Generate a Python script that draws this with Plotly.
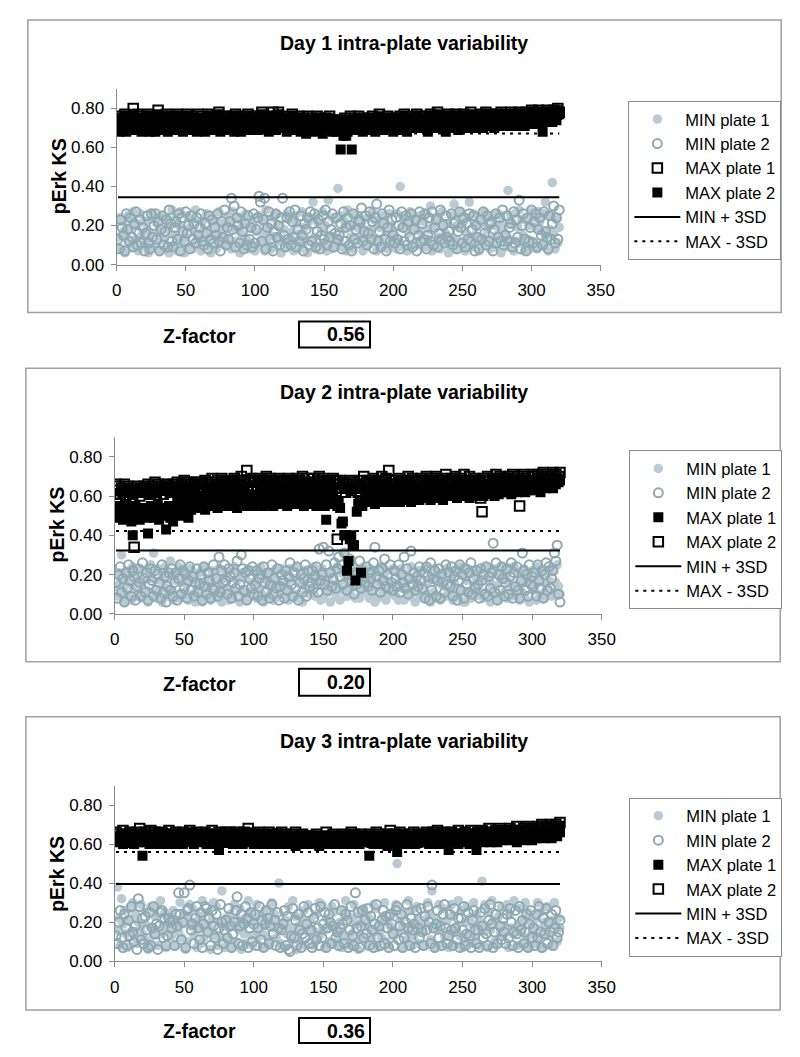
import plotly.graph_objects as go

W, H = 800, 1057
# the page body adds an 8px margin; the resulting 808x1065 page is photographed
# at 800x1057, so screen positions are mapped back to figure positions below
OFF = 8
SX, SY = W / (W + OFF), H / (H + OFF)
FONT = "Liberation Sans, Arial, Helvetica, sans-serif"

# ---------------- data (pErk KS values x 100, well index 1..320) ----------------
D1_MIN1 = [14,24,8,22,17,6,15,25,11,19,22,27,9,13,20,7,26,15,10,22,
11,18,6,23,16,26,9,14,21,12,7,17,25,13,8,23,19,6,16,28,
10,15,24,7,20,27,12,18,6,14,25,9,19,23,8,17,28,12,15,10,
7,22,18,12,26,16,9,6,24,20,13,8,17,27,12,21,14,19,10,25,
13,22,8,27,10,18,12,24,6,16,21,11,26,13,8,19,23,10,21,7,
17,9,25,12,16,22,7,28,11,19,15,8,24,9,14,26,12,20,6,13,
18,11,26,9,23,13,17,7,25,21,12,8,16,27,11,19,13,6,22,24,
12,32,14,8,25,21,9,18,27,11,20,7,33,15,8,24,14,23,10,39,
13,25,9,18,22,7,28,10,14,20,8,26,12,19,13,24,21,7,17,12,
9,24,18,11,27,23,13,7,20,19,12,25,10,22,16,8,26,20,11,17,
15,8,26,12,40,19,9,24,21,7,16,27,8,19,23,12,22,10,25,17,
11,22,9,26,13,18,30,7,20,10,24,22,14,8,27,19,11,16,21,6,
10,25,13,31,8,20,19,12,27,11,22,7,16,24,32,13,9,26,15,20,
12,7,23,21,14,27,11,18,24,8,13,25,20,9,15,26,19,6,22,17,
15,9,38,13,25,21,7,26,12,19,28,11,23,15,7,24,13,20,8,27,
12,24,19,8,27,22,10,17,26,32,15,7,18,25,42,16,8,23,11,19]
D1_MIN2 = [13,8,23,19,15,7,26,18,12,24,14,9,21,27,10,16,23,11,19,7,
16,25,11,8,26,14,20,26,13,22,7,18,25,10,17,23,9,28,21,12,
9,19,22,13,26,7,24,17,12,27,16,20,8,25,13,21,11,24,15,19,
26,12,10,21,16,8,25,13,23,11,19,15,26,12,7,22,14,28,10,19,
13,22,34,18,30,9,24,20,11,27,17,8,21,10,25,13,19,9,26,11,
18,24,35,32,12,23,34,8,19,27,13,21,7,17,26,14,20,10,24,34,
15,9,24,13,27,10,22,14,28,9,18,12,25,15,7,21,18,24,10,27,
12,21,26,9,17,23,8,15,25,13,28,10,22,14,18,26,9,16,24,13,
15,21,8,27,12,19,24,10,20,7,26,13,18,11,23,22,29,12,17,25,
10,16,27,13,22,8,24,31,12,17,9,26,21,13,7,19,28,12,23,15,
11,24,13,20,8,27,19,12,25,10,22,14,26,9,18,23,7,15,27,12,
21,13,26,8,15,24,12,27,10,19,23,9,16,28,13,20,11,25,14,17,
12,26,10,21,22,8,17,27,19,11,24,9,21,13,26,12,18,25,7,20,
14,8,23,13,27,16,10,25,12,21,22,7,18,26,11,14,24,12,28,10,
15,25,12,19,21,9,27,11,23,14,33,8,20,26,13,7,24,12,19,28,
11,22,26,9,18,24,15,10,27,17,14,8,25,13,21,30,11,24,13,28]
D1_MAX1 = [74,76,72,75,73,77,71,74,76,73,75,80,72,74,77,73,75,71,76,74,
73,75,77,72,74,76,73,71,75,79,74,72,76,73,75,77,72,74,73,76,
75,72,74,77,73,76,74,71,75,73,77,74,72,76,74,73,75,72,77,74,
73,76,74,72,75,77,73,74,76,72,75,73,74,78,72,75,73,76,74,72,
75,73,76,74,72,77,74,73,75,71,76,74,73,75,77,72,74,76,73,75,
74,72,76,73,78,75,73,74,76,72,75,73,78,74,72,76,78,73,75,74,
73,75,72,76,74,73,77,72,75,74,73,76,72,74,75,73,71,76,74,73,
75,73,74,72,76,73,75,74,71,73,75,72,74,76,73,72,74,73,71,74,
72,74,73,70,75,73,71,74,76,72,73,75,74,72,76,73,74,72,75,73,
74,72,75,73,76,74,72,73,75,77,73,74,72,75,73,76,74,73,75,72,
73,75,74,72,76,73,75,77,74,72,75,73,76,74,73,75,77,73,74,76,
75,73,76,74,72,75,77,73,74,76,73,78,74,75,73,76,74,72,75,77,
74,76,73,75,77,74,72,76,75,73,77,74,76,73,75,78,74,76,73,75,
76,74,77,75,73,76,78,74,75,77,74,76,73,75,77,76,74,78,75,76,
77,75,76,74,78,76,75,77,74,76,78,75,77,76,74,78,76,75,77,79,
76,78,77,75,79,77,76,78,75,77,79,76,78,77,76,79,78,77,80,78]
D1_MAX2 = [72,68,74,71,73,76,68,72,74,70,73,77,69,72,75,70,73,68,75,72,
70,73,76,68,72,74,71,68,73,77,72,69,74,71,73,76,68,72,70,74,
73,69,72,76,70,74,72,68,73,70,76,72,69,74,72,70,73,68,75,72,
70,74,72,68,73,76,70,72,75,69,73,71,72,77,68,73,70,74,72,69,
73,70,75,72,68,76,72,70,73,68,74,72,70,73,76,69,72,75,70,73,
72,69,74,71,77,73,70,72,75,68,73,71,76,72,69,74,77,70,73,72,
71,73,68,74,72,70,76,69,73,72,70,74,68,72,73,70,67,74,72,70,
73,70,72,68,75,71,73,72,67,71,73,69,72,75,70,68,72,71,68,72,
70,59,71,66,73,66,68,72,74,59,70,73,72,69,75,70,72,68,73,71,
72,69,74,71,75,72,68,71,73,76,70,72,69,73,71,75,72,70,73,68,
71,73,72,69,75,71,73,76,72,68,73,71,75,72,70,73,76,70,72,75,
73,70,75,72,68,73,76,71,72,75,70,77,72,73,70,75,72,68,73,76,
72,75,70,73,76,72,69,74,73,70,76,72,75,70,73,77,72,74,70,73,
74,71,76,73,70,74,77,72,73,76,71,74,70,73,76,74,71,77,73,74,
75,72,74,71,77,74,72,75,71,74,77,73,75,74,71,77,74,72,75,78,
74,77,75,72,78,75,73,68,73,76,78,74,77,75,73,78,76,74,79,77]

D2_MIN1 = [14,9,21,16,30,12,6,19,22,10,15,7,24,20,9,14,11,23,8,17,
10,22,12,6,18,25,21,31,11,8,23,12,17,6,19,24,13,9,20,27,
12,7,20,17,10,24,8,16,22,11,19,15,7,23,18,10,21,6,13,16,
21,9,6,13,24,10,18,15,7,22,11,19,16,8,23,14,6,18,11,20,
13,7,22,12,8,24,11,17,20,6,12,21,9,18,7,23,11,16,9,22,
15,8,20,13,24,10,6,19,21,16,9,13,20,7,22,8,17,15,11,23,
10,21,12,16,7,23,11,18,9,8,24,10,19,17,6,22,14,12,20,10,
18,11,24,9,14,21,17,7,23,8,16,20,11,19,6,22,13,15,9,24,
14,7,21,12,31,17,9,23,11,14,25,20,8,15,22,8,16,11,24,12,
20,15,8,23,17,12,6,21,8,16,24,13,11,18,7,22,12,10,15,23,
12,9,21,7,16,23,13,7,20,12,17,9,24,11,18,6,16,22,10,14,
22,8,15,10,24,17,6,19,11,23,8,16,20,7,15,21,14,9,23,12,
10,19,7,16,22,13,9,24,12,6,20,6,17,23,11,8,21,14,9,18,
12,22,10,17,8,24,11,17,20,6,15,23,9,14,21,7,18,10,24,11,
19,8,16,22,9,13,24,10,14,21,7,17,11,23,8,16,20,6,15,22,
12,19,7,24,18,10,16,21,8,21,13,17,23,9,22,11,16,25,14,10]
D2_MIN2 = [16,8,20,24,11,18,6,21,13,25,17,9,22,19,7,14,23,16,9,26,
18,11,21,7,15,23,17,9,22,12,20,16,8,25,11,19,6,14,21,12,
23,9,16,21,7,18,25,10,22,13,20,8,17,24,12,19,9,16,23,11,
15,20,7,24,14,10,21,17,8,13,25,12,18,9,29,11,22,16,25,17,
10,23,19,8,16,21,13,27,9,15,30,23,12,21,7,22,18,13,24,10,
15,22,9,18,20,7,24,16,11,21,8,15,25,10,18,13,23,7,14,20,
17,8,22,12,19,26,15,9,21,13,24,7,16,20,11,18,25,9,22,14,
16,22,13,19,24,11,33,17,20,34,15,25,12,32,21,14,18,26,13,23,
29,19,25,15,31,22,12,20,28,17,24,10,21,15,18,27,13,22,19,16,
24,14,21,18,12,26,34,19,15,22,11,23,17,28,14,20,13,25,16,12,
22,18,14,25,11,20,16,29,13,23,10,18,32,15,21,12,19,14,24,17,
13,21,8,24,19,7,26,12,18,22,9,17,23,8,20,16,11,25,15,21,
14,24,9,19,22,7,17,25,12,20,8,23,15,11,21,26,10,18,13,22,
15,8,23,17,20,10,24,9,19,13,21,36,11,26,7,20,12,24,18,9,
16,23,10,19,26,8,21,14,24,12,8,17,31,22,12,20,9,25,15,19,
14,21,9,25,17,13,22,8,20,26,12,24,13,18,22,31,27,35,10,6]
D2_MAX1 = [52,49,55,50,53,48,51,56,49,54,50,47,40,52,55,49,51,48,53,50,
54,51,49,41,52,55,50,49,53,51,56,48,52,54,50,53,43,51,55,49,
53,47,55,51,57,53,50,56,52,54,58,55,49,57,53,56,59,54,57,55,
58,55,60,56,53,59,57,61,55,58,56,60,57,54,59,62,56,58,55,60,
57,59,55,61,58,56,60,54,58,62,57,59,55,60,58,56,61,57,59,55,
58,60,56,59,62,57,55,60,58,56,61,59,57,55,60,58,62,56,59,57,
60,57,59,55,61,58,56,60,57,62,59,56,58,61,57,55,59,60,56,58,
59,56,61,57,55,60,58,62,57,59,55,48,58,60,56,59,61,57,58,55,
57,54,46,47,40,40,22,27,38,40,35,35,17,52,56,58,21,55,57,60,
59,61,57,60,62,58,56,61,59,63,57,60,62,58,61,59,63,57,60,62,
61,58,62,60,57,63,59,61,64,58,62,60,57,61,63,59,62,60,58,64,
62,60,63,59,61,64,58,62,60,63,61,59,64,60,62,58,63,61,60,64,
61,63,60,64,62,59,63,61,65,60,62,64,61,63,59,62,64,60,63,61,
63,61,64,62,60,65,62,63,61,64,62,66,60,63,65,61,64,62,66,63,
64,62,65,63,61,66,63,64,62,65,67,63,66,64,62,65,67,63,65,64,
65,63,67,64,66,62,68,65,67,64,66,69,65,67,64,68,66,69,67,68]
D2_MAX2 = [66,63,65,61,64,62,66,60,63,65,62,64,61,34,63,65,62,60,64,63,
65,62,64,66,63,61,65,63,67,62,64,66,63,65,61,64,66,63,65,62,
64,66,63,65,67,62,64,66,63,68,65,63,67,64,66,62,65,67,64,66,
67,64,66,63,68,65,67,64,66,69,63,67,65,68,64,66,69,65,67,64,
66,68,65,67,64,69,66,68,65,67,70,64,66,68,73,65,67,69,64,67,
68,65,67,69,66,64,68,66,70,65,67,69,64,68,66,63,67,69,65,68,
66,68,64,67,69,65,68,66,63,67,69,65,68,66,70,64,67,65,69,66,
67,65,69,66,64,68,70,65,67,69,66,64,68,65,67,63,69,66,68,38,
66,68,64,67,65,62,66,64,68,63,65,67,64,66,62,65,68,64,70,66,
67,64,68,66,63,69,65,67,64,68,66,70,65,67,69,64,73,66,68,65,
66,68,64,67,69,65,67,64,68,66,70,65,67,69,64,68,66,63,67,69,
68,65,67,70,66,68,64,69,67,65,70,66,68,64,67,69,65,71,67,68,
66,69,67,64,70,68,65,67,69,66,71,68,64,67,70,66,68,65,69,67,
68,66,59,52,69,67,65,70,68,66,64,69,67,71,65,68,70,66,69,67,
69,67,70,66,68,71,67,69,65,70,55,68,66,71,69,67,70,68,66,71,
68,70,67,71,69,66,70,72,68,69,71,67,70,68,72,69,71,68,70,72]

D3_MIN1 = [16,38,22,8,32,19,26,14,7,21,27,15,30,13,24,9,20,16,29,14,
12,19,25,6,10,28,17,13,23,28,8,16,31,14,18,25,7,22,15,19,
13,26,17,8,21,15,30,12,19,24,6,10,22,29,18,27,13,20,7,17,
23,9,31,12,19,14,25,17,6,21,30,13,28,8,20,12,36,18,7,22,
11,17,24,7,19,29,10,22,16,27,6,18,14,9,21,31,25,13,8,20,
14,29,12,23,16,7,18,26,13,21,8,11,30,17,24,12,20,40,9,18,
16,7,21,14,28,17,11,31,15,23,6,18,10,22,16,26,8,20,29,17,
21,13,8,15,24,11,30,14,29,16,7,22,17,10,20,28,25,9,18,14,
12,20,7,26,13,31,11,23,8,14,21,29,10,19,6,24,13,20,27,12,
18,8,22,16,11,29,15,27,7,19,16,12,23,30,10,21,8,18,15,25,
13,29,50,15,21,7,18,24,16,11,31,14,26,8,13,19,28,22,9,18,
16,21,8,19,30,24,11,36,17,7,22,16,29,20,8,27,13,15,21,7,
14,29,23,8,17,15,31,13,26,7,11,20,28,14,22,9,19,30,12,24,
17,8,20,41,15,29,18,7,25,16,31,21,10,8,19,23,15,28,13,18,
15,29,7,24,17,14,31,16,8,19,27,15,9,21,30,12,25,7,20,14,
18,9,22,30,12,25,17,7,20,15,28,13,19,8,21,30,18,10,22,17]
D3_MIN2 = [13,9,20,26,12,7,24,17,8,21,13,28,15,10,18,6,32,28,11,22,
9,23,16,7,25,8,17,28,14,19,6,18,25,26,12,22,8,13,22,20,
17,21,8,24,18,35,24,11,20,35,7,26,27,39,16,19,9,22,28,17,
11,25,7,19,28,27,15,22,8,26,18,12,24,6,17,29,20,9,16,21,
12,27,18,7,14,20,26,33,9,18,24,8,19,28,22,7,17,25,10,19,
24,8,17,28,11,21,7,19,26,22,9,18,29,14,21,8,25,17,7,16,
19,26,8,23,6,5,13,27,12,21,8,24,16,7,14,28,12,19,25,9,
16,7,22,27,11,17,8,28,12,19,25,7,17,24,20,9,18,29,12,15,
8,17,26,19,9,24,21,7,16,28,13,8,35,17,25,7,18,26,12,21,
14,27,8,23,16,7,19,29,12,18,8,21,26,9,23,17,7,24,19,14,
8,26,28,11,18,24,7,12,20,29,17,8,22,16,19,7,26,17,12,27,
15,8,23,16,28,20,9,39,17,7,19,26,12,18,8,24,29,17,9,13,
24,16,8,27,17,11,22,7,22,16,28,8,14,25,13,7,21,26,16,9,
16,7,25,18,12,27,14,8,21,29,19,7,15,24,9,28,18,11,22,15,
9,24,12,27,20,8,15,26,14,7,28,16,21,9,15,24,7,19,26,12,
17,8,24,12,28,15,7,22,14,27,9,20,15,24,8,17,26,12,15,21]
D3_MAX1 = [62,64,61,63,65,60,63,62,64,61,63,65,62,60,64,63,61,65,62,54,
63,61,64,62,60,65,63,61,64,62,66,60,63,65,61,64,62,60,63,65,
62,64,60,63,65,61,64,62,60,63,65,62,64,61,63,66,60,64,62,63,
64,61,63,65,62,60,64,63,61,65,62,64,60,63,57,62,65,61,63,64,
61,63,65,62,60,64,62,63,61,65,63,60,64,62,66,61,63,65,62,60,
63,65,61,64,62,60,63,65,62,61,64,63,60,65,62,64,61,63,60,62,
62,60,63,61,64,62,60,63,61,59,62,64,61,63,60,62,64,61,63,60,
61,63,60,62,64,61,59,63,62,60,64,61,63,60,62,64,61,63,60,62,
63,61,64,62,60,63,61,64,62,60,63,65,61,62,64,60,63,61,64,62,
62,64,54,61,63,60,64,62,61,63,60,62,64,61,63,59,62,64,61,63,
64,61,56,63,60,62,65,61,63,64,60,62,61,64,63,60,62,65,61,63,
62,64,61,63,65,60,64,62,63,61,65,62,60,64,63,61,62,64,61,57,
63,61,64,62,65,63,60,64,62,61,65,63,62,64,60,63,65,61,64,57,
64,62,65,63,61,64,62,66,63,61,64,62,65,63,61,64,66,62,64,63,
65,63,64,62,66,64,63,65,61,64,66,63,65,62,64,66,63,65,64,62,
64,66,63,65,67,64,66,63,65,67,64,66,65,63,67,65,66,64,68,66]
D3_MAX2 = [66,63,65,62,64,67,63,65,61,64,66,63,65,62,64,66,63,68,65,63,
64,66,62,65,63,67,64,62,66,63,65,61,64,66,63,65,62,64,67,63,
65,62,64,66,63,65,61,64,66,63,65,62,64,67,63,65,64,62,66,64,
63,65,62,64,66,63,65,64,62,67,63,65,62,64,66,63,65,61,64,66,
64,62,66,63,65,62,64,66,63,65,62,64,66,63,65,68,62,64,63,65,
62,65,63,66,64,62,65,63,61,64,66,63,65,62,64,63,65,62,64,66,
63,65,62,64,61,63,65,62,64,66,63,61,64,62,65,63,61,64,62,64,
62,64,61,63,65,62,64,61,63,62,64,66,63,61,64,62,65,63,61,64,
63,61,64,62,65,63,61,64,62,66,63,65,62,64,61,63,65,62,64,63,
64,62,65,63,61,64,62,66,63,65,62,64,61,63,65,62,64,67,63,65,
63,65,62,64,66,63,65,62,64,61,63,65,62,64,66,63,61,65,63,64,
65,62,64,66,63,65,62,64,66,63,65,67,64,62,65,63,66,64,62,65,
64,66,63,65,62,64,67,63,65,64,62,66,63,65,64,67,63,65,62,64,
66,63,65,67,64,66,63,65,68,64,66,63,65,67,64,66,68,64,66,65,
67,64,66,68,65,67,64,66,69,65,67,64,66,68,65,67,69,66,68,65,
68,66,67,69,66,68,70,67,66,69,67,68,70,66,69,67,70,68,69,71]

# thresholds (MIN + 3SD, MAX - 3SD) and Z-factors
THRESH_MIN = [0.345, 0.323, 0.395]
THRESH_MAX = [0.672, 0.422, 0.560]
Z_FACTORS = ["0.56", "0.20", "0.36"]
TITLES = ["Day 1 intra-plate variability", "Day 2 intra-plate variability",
          "Day 3 intra-plate variability"]
X_TICKS = [0, 50, 100, 150, 200, 250, 300, 350]
Y_TICKS = [0.0, 0.2, 0.4, 0.6, 0.8]

PANELS = [
    dict(min1=D1_MIN1, min2=D1_MIN2, max1=D1_MAX1, max2=D1_MAX2, max1_filled=False),
    dict(min1=D2_MIN1, min2=D2_MIN2, max1=D2_MAX1, max2=D2_MAX2, max1_filled=True),
    dict(min1=D3_MIN1, min2=D3_MIN2, max1=D3_MAX1, max2=D3_MAX2, max1_filled=True),
]

# ---------------- layout geometry (screen pixels) ----------------
GEOM = [
    dict(box=(23, 20, 787, 313), x0=113, x1=604, y0=265, y1=89, title_y=43,
         ytitle=(54, 176), legend=(632, 101), zy=337, zbox=(298, 322, 370, 348)),
    dict(box=(21, 369, 786, 663), x0=111, x1=605, y0=615, y1=438, title_y=393,
         ytitle=(53, 525), legend=(633, 451), zy=685, zbox=(298, 670, 370, 697)),
    dict(box=(21, 718, 786, 1012), x0=111, x1=605, y0=963, y1=787, title_y=742,
         ytitle=(53, 875), legend=(633, 799), zy=1033, zbox=(298, 1020, 370, 1045)),
]


def X(px):
    return (px / SX - OFF) / W


def Y(py):
    return 1 - (py / SY - OFF) / H


C_MIN1 = "#bacbd3"
C_MIN2 = "#8ea9b0"
GRAY = "#8a8a8a"

fig = go.Figure()
layout = dict(width=W, height=H, margin=dict(l=0, r=0, t=0, b=0),
              paper_bgcolor="white", plot_bgcolor="white",
              font=dict(family=FONT, size=16, color="black"),
              showlegend=True)
annotations = []
shapes = []

for i, (p, g) in enumerate(zip(PANELS, GEOM)):
    k = "" if i == 0 else str(i + 1)
    xa, ya = "x" + k, "y" + k
    leg = "legend" + k
    n = len(p["min1"])
    xs = list(range(1, n + 1))

    def sc(name, vals, symbol, color, size, lw=0):
        fig.add_trace(go.Scatter(
            x=xs, y=[v / 100 for v in vals], mode="markers", name=name,
            xaxis=xa, yaxis=ya, legend=leg,
            marker=dict(symbol=symbol, color=color, size=size,
                        line=dict(width=lw, color=color))))

    sc("MIN plate 1", p["min1"], "circle", C_MIN1, 9.5)
    sc("MIN plate 2", p["min2"], "circle-open", C_MIN2, 9, 2)
    if p["max1_filled"]:
        sc("MAX plate 1", p["max1"], "square", "black", 10)
        sc("MAX plate 2", p["max2"], "square-open", "black", 9.5, 2)
    else:
        sc("MAX plate 1", p["max1"], "square-open", "black", 9.5, 2)
        sc("MAX plate 2", p["max2"], "square", "black", 10)

    fig.add_trace(go.Scatter(x=[1, n], y=[THRESH_MIN[i]] * 2, mode="lines",
                             name="MIN + 3SD", xaxis=xa, yaxis=ya, legend=leg,
                             line=dict(color="black", width=2)))
    fig.add_trace(go.Scatter(x=[1, n], y=[THRESH_MAX[i]] * 2, mode="lines",
                             name="MAX - 3SD", xaxis=xa, yaxis=ya, legend=leg,
                             line=dict(color="black", width=2, dash="3px,5px")))

    layout["xaxis" + k] = dict(
        domain=[X(g["x0"]), X(g["x1"])], anchor=ya, range=[0, 350],
        tickvals=X_TICKS, ticks="outside", ticklen=5, tickcolor=GRAY,
        showline=True, linecolor=GRAY, linewidth=1, showgrid=False,
        zeroline=False, tickfont=dict(size=17), ticklabelstandoff=5)
    layout["yaxis" + k] = dict(
        domain=[Y(g["y0"]), Y(g["y1"])], anchor=xa, range=[0, 0.9],
        tickvals=Y_TICKS, tickformat=".2f", ticks="outside", ticklen=5,
        tickcolor=GRAY, showline=True, linecolor=GRAY, linewidth=1,
        showgrid=False, zeroline=False, tickfont=dict(size=17),
        ticklabelstandoff=3)
    lx, ly = g["legend"]
    layout[leg] = dict(x=X(lx), y=Y(ly), xanchor="left", yanchor="top",
                       bgcolor="white", bordercolor="#8a8a8a", borderwidth=1,
                       font=dict(size=16.5, family=FONT), itemwidth=46,
                       tracegroupgap=0)

    bx0, by0, bx1, by1 = g["box"]
    shapes.append(dict(type="rect", xref="paper", yref="paper",
                       x0=X(bx0), x1=X(bx1), y0=Y(by0), y1=Y(by1),
                       line=dict(color="#a0a0a0", width=1.5), layer="below"))
    zx0, zy0, zx1, zy1 = g["zbox"]
    shapes.append(dict(type="rect", xref="paper", yref="paper",
                       x0=X(zx0), x1=X(zx1), y0=Y(zy0), y1=Y(zy1),
                       line=dict(color="black", width=2)))

    annotations.append(dict(text="<b>" + TITLES[i] + "</b>", xref="paper",
                            yref="paper", x=X(404), y=Y(g["title_y"]),
                            xanchor="center", yanchor="middle", showarrow=False,
                            font=dict(size=19.5, family=FONT)))
    tx, ty = g["ytitle"]
    annotations.append(dict(text="<b>pErk KS</b>", xref="paper", yref="paper",
                            x=X(tx), y=Y(ty), xanchor="center", yanchor="middle",
                            textangle=-90, showarrow=False,
                            font=dict(size=19.5, family=FONT)))
    annotations.append(dict(text="<b>Z-factor</b>", xref="paper", yref="paper",
                            x=X(197), y=Y(g["zy"]), xanchor="center",
                            yanchor="middle", showarrow=False,
                            font=dict(size=19.5, family=FONT)))
    annotations.append(dict(text="<b>" + Z_FACTORS[i] + "</b>", xref="paper",
                            yref="paper", x=X(367), y=Y((zy0 + zy1) / 2),
                            xanchor="right", yanchor="middle", showarrow=False,
                            font=dict(size=19.5, family=FONT)))

layout["annotations"] = annotations
layout["shapes"] = shapes
fig.update_layout(**layout)
fig.write_html("out.html")
